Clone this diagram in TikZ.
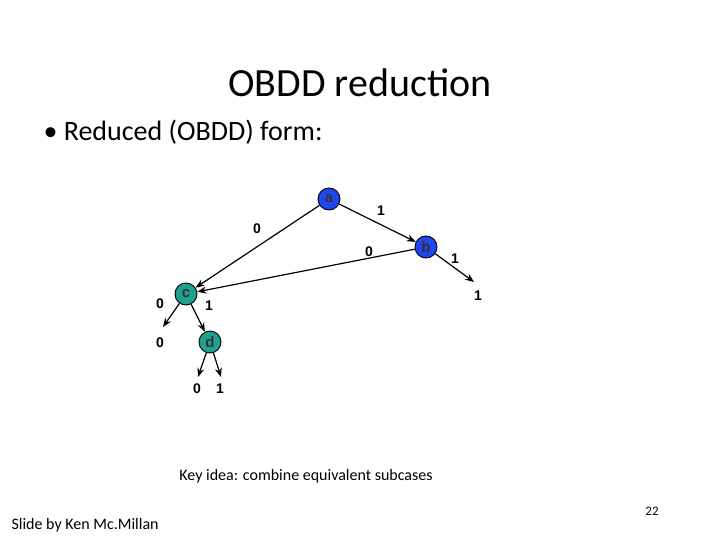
\documentclass[tikz,border=0pt]{standalone}
\usepackage{fontspec}
\setmainfont{Carlito}
\newfontfamily\arial{Liberation Sans}
\usetikzlibrary{arrows.meta}
\definecolor{nblue}{HTML}{2046F0}
\definecolor{nteal}{HTML}{20A090}
\tikzset{
  bdd/.style={circle,draw=black,line width=0.9pt,minimum size=22pt,inner sep=0pt,font=\arial\bfseries\fontsize{15}{15}\selectfont,text=black!80},
  lab/.style={font=\arial\bfseries\fontsize{14}{14}\selectfont,inner sep=0pt},
  edge/.style={line width=1.2pt,-{Stealth[length=9pt,width=7pt]}}
}
\begin{document}
\begin{tikzpicture}[x=1pt,y=-1pt]
\useasboundingbox (0,0) rectangle (720,540);
\node[font=\fontsize{40}{40}\selectfont] (title) at (360,83) {OBDD reduction};
\node[font=\fontsize{28}{28}\selectfont,anchor=west] (bul) at (40,132) {\textbullet\ Reduced (OBDD) form:};
\node[bdd,fill=nblue] (a) at (329,199) {a};
\node[bdd,fill=nblue] (b) at (426,247) {b};
\node[bdd,fill=nteal] (c) at (186,294) {c};
\node[bdd,fill=nteal] (d) at (210,342) {d};
\coordinate (b1) at (474,282);
\coordinate (c0) at (163,327);
\coordinate (d0) at (198,377);
\coordinate (d1) at (221,377);
\draw[edge] (a) -- (c);
\draw[edge] (a) -- (b);
\draw[edge] (b) -- (c);
\draw[edge] (b) -- (b1);
\draw[edge] (c) -- (c0);
\draw[edge] (c) -- (d);
\draw[edge] (d) -- (d0);
\draw[edge] (d) -- (d1);
\node[lab] (l1) at (257,229) {0};
\node[lab] (l2) at (381,211) {1};
\node[lab] (l3) at (369,252) {0};
\node[lab] (l4) at (455,259) {1};
\node[lab] (l5) at (478,296) {1};
\node[lab] (l6) at (160,304) {0};
\node[lab] (l7) at (209,306) {1};
\node[lab] (l8) at (160,343) {0};
\node[lab] (l9) at (197,389) {0};
\node[lab] (l10) at (220,389) {1};
\node[font=\fontsize{16}{16}\selectfont] (key) at (306,476) {Key idea: combine equivalent subcases};
\node[font=\fontsize{16}{16}\selectfont,anchor=west] (by) at (8,525) {Slide by Ken Mc.Millan};
\node[font=\fontsize{13}{13}\selectfont] (pg) at (652,511) {22};
\end{tikzpicture}
\end{document}
